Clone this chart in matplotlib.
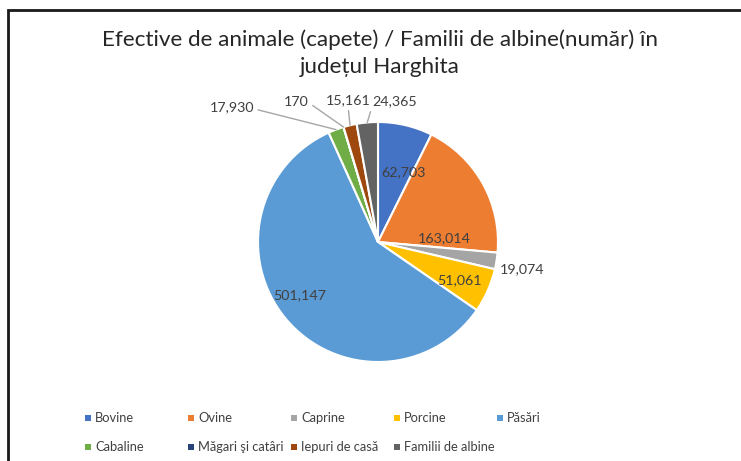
import matplotlib
matplotlib.use("Agg")
import matplotlib.pyplot as plt
import numpy as np
from matplotlib.patches import Rectangle

plt.rcParams['font.family'] = ['Lato', 'DejaVu Sans']

categories = ["Bovine", "Ovine", "Caprine", "Porcine", "Păsări",
              "Cabaline", "Măgari şi catâri", "Iepuri de casă", "Familii de albine"]
values = [62703, 163014, 19074, 51061, 501147, 17930, 170, 15161, 24365]
value_labels = ["62,703", "163,014", "19,074", "51,061", "501,147",
                "17,930", "170", "15,161", "24,365"]
colors = ["#4472C4", "#ED7D31", "#A5A5A5", "#FFC000", "#5B9BD5",
          "#70AD47", "#264478", "#9E480E", "#636363"]

title = "Efective de animale (capete) / Familii de albine(număr) în\njudețul Harghita"

# label layout in radius units (x, y), and whether a leader line is drawn
label_pos = [(0.21, 0.58), (0.55, 0.03), (1.20, -0.23), (0.68, -0.32), (-0.65, -0.44),
             (-1.22, 1.12), (-0.68, 1.17), (-0.25, 1.18), (0.14, 1.17)]
leader = [False, False, False, False, False, True, True, True, True]
leader_relpos = [None, None, None, None, None, (1.0, 0.4), (1.0, 0.4), (0.5, 0.0), (0.0, 0.2)]

W, H = 741, 461
fig = plt.figure(figsize=(W / 100, H / 100), dpi=100)
fig.patch.set_facecolor("white")

# frame
fig.add_artist(Rectangle((8 / W, -0.05), 1.1, 1 - 10 / H + 0.05, transform=fig.transFigure,
                         fill=False, edgecolor="#1a1a1a", linewidth=2.0))

fig.text(380 / W, 1 - 53.5 / H, title, ha="center", va="center", fontsize=16.2,
         color="#262626", linespacing=1.42)

cx, cy, R = 378, 242, 120
ax = fig.add_axes([(cx - R) / W, (H - cy - R) / H, 2 * R / W, 2 * R / H])
wedges, _ = ax.pie(values, colors=colors, startangle=90, counterclock=False, radius=1.0,
                   wedgeprops=dict(edgecolor="white", linewidth=1.5))
ax.set_xlim(-1, 1)
ax.set_ylim(-1, 1)
ax.set_aspect("equal")
ax.axis("off")

for w, lab, pos, ld, rp in zip(wedges, value_labels, label_pos, leader, leader_relpos):
    if ld:
        mid = np.deg2rad((w.theta1 + w.theta2) / 2)
        ax.annotate(lab, xy=(np.cos(mid) * 1.0, np.sin(mid) * 1.0), xytext=pos,
                    ha="center", va="center", fontsize=10.3, color="#404040",
                    annotation_clip=False,
                    arrowprops=dict(arrowstyle="-", color="#a6a6a6", lw=1.0,
                                    shrinkA=1, shrinkB=0, relpos=rp))
    else:
        ax.text(pos[0], pos[1], lab, ha="center", va="center", fontsize=10.3, color="#404040")

# legend (row-major, equal column spacing)
x0, dx = 88, 103
ys = [418, 447]
for i, (name, c) in enumerate(zip(categories, colors)):
    row, col = divmod(i, 5)
    x = x0 + col * dx
    y = ys[row]
    fig.add_artist(Rectangle(((x - 3) / W, (H - y - 3) / H), 6 / W, 6 / H,
                             transform=fig.transFigure, facecolor=c, edgecolor="none"))
    fig.text((x + 7) / W, (H - y) / H, name, ha="left", va="center", fontsize=9.3,
             color="#404040")

fig.savefig("out.png", dpi=100, facecolor="white")
